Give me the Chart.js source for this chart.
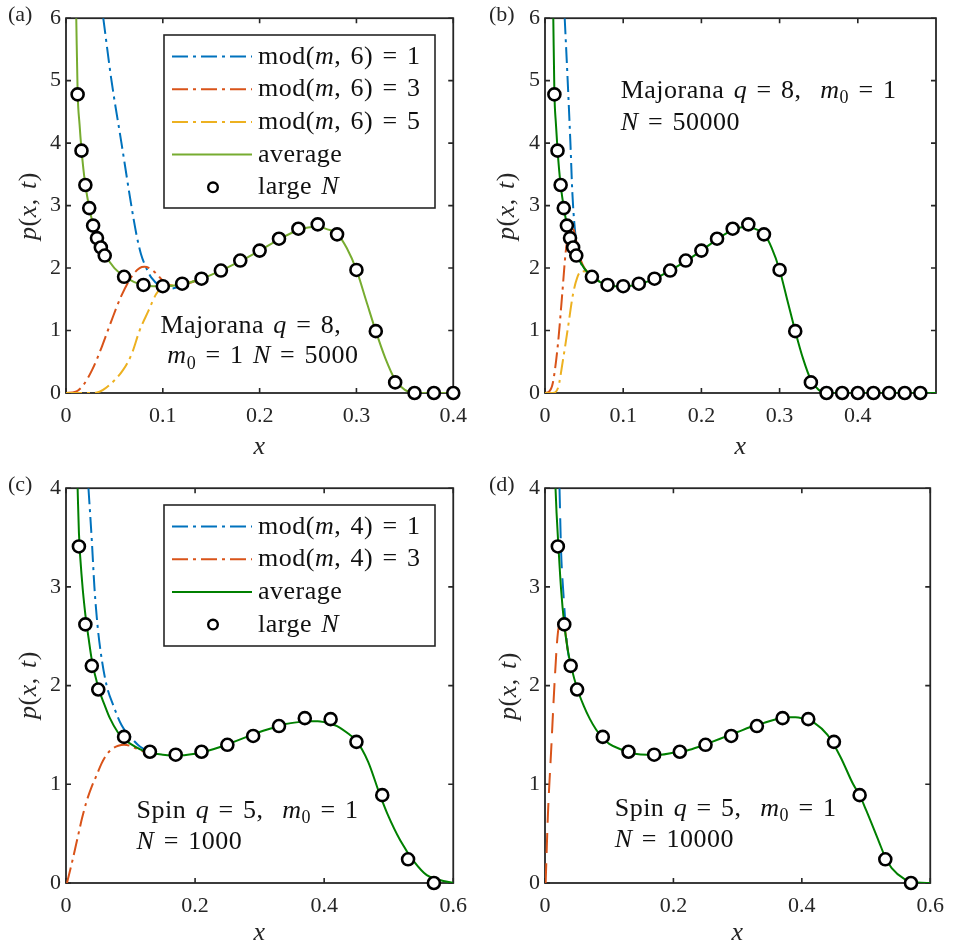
<!DOCTYPE html>
<html>
<head>
<meta charset="utf-8">
<script src="https://cdn.jsdelivr.net/npm/chart.js@4.4.0/dist/chart.umd.min.js"></script>
<style>
html,body{margin:0;padding:0;background:#fff;}
#wrap{position:relative;width:954px;height:951px;overflow:hidden;background:#fff;}
#wrap canvas{position:absolute;}
</style>
</head>
<body>
<div id="wrap">
<canvas id="ca" width="477" height="470"></canvas>
<canvas id="cb" width="477" height="470"></canvas>
<canvas id="cc" width="477" height="481"></canvas>
<canvas id="cd" width="477" height="481"></canvas>
</div>
<script>
// ---------------- data ----------------
// large-N points, Majorana q = 8 (panels a, b)
const largeNX_q8 = [0.012,0.016,0.020,0.024,0.028,0.032,0.036,0.040,0.06,0.08,0.10,0.12,0.14,0.16,0.18,0.20,0.22,0.24,0.26,0.28,0.30,0.32,0.34,0.36,0.38,0.40,0.42,0.44,0.46,0.48];
const largeNY_q8 = [4.78,3.88,3.33,2.96,2.68,2.48,2.33,2.20,1.86,1.73,1.71,1.75,1.83,1.96,2.12,2.28,2.47,2.63,2.70,2.54,1.97,0.99,0.17,0,0,0,0,0,0,0];
// average curve, q = 8
const avgX_q8 = [0.0106,0.012,0.014,0.016,0.018,0.020,0.024,0.028,0.032,0.036,0.040,0.05,0.06,0.07,0.08,0.09,0.10,0.12,0.14,0.16,0.18,0.20,0.22,0.24,0.25,0.26,0.27,0.28,0.29,0.30,0.31,0.32,0.33,0.34,0.35,0.36,0.40,0.50];
const avgY_q8 = [6.0,4.82,4.3,3.9,3.58,3.33,2.97,2.70,2.50,2.35,2.22,2.0,1.87,1.78,1.73,1.71,1.71,1.74,1.83,1.96,2.11,2.28,2.46,2.61,2.65,2.66,2.62,2.55,2.32,1.97,1.48,0.99,0.55,0.21,0.05,0.0,0,0];
// panel a, N = 5000
const mod1X_a = [0.0385,0.047,0.0573,0.0675,0.0726,0.0775,0.083,0.088,0.0965,0.105,0.112,0.12,0.14];
const mod1Y_a = [6,5,4,3,2.55,2.22,2.0,1.85,1.72,1.67,1.68,1.73,1.83];
const mod3X_a = [0,0.01,0.018,0.027,0.037,0.047,0.057,0.068,0.076,0.081,0.087,0.094,0.10,0.11,0.12,0.14];
const mod3Y_a = [0,0.02,0.13,0.37,0.74,1.16,1.55,1.87,2.0,2.02,1.99,1.9,1.8,1.72,1.73,1.83];
const mod5X_a = [0,0.02,0.032,0.045,0.059,0.068,0.076,0.085,0.093,0.098,0.105,0.12,0.14];
const mod5Y_a = [0,0,0.01,0.13,0.37,0.63,1.0,1.31,1.58,1.67,1.71,1.74,1.83];
// panel b, N = 50000
const mod1X_b = [0.0252,0.029,0.0325,0.035,0.038,0.042,0.047,0.053,0.06,0.07];
const mod1Y_b = [6,5,4,3.2,2.65,2.26,2.05,1.93,1.87,1.78];
const mod3X_b = [0,0.005,0.010,0.0166,0.022,0.0265,0.031,0.035,0.038,0.042,0.046,0.05,0.06];
const mod3Y_b = [0,0.02,0.16,0.79,1.58,2.26,2.6,2.65,2.55,2.3,2.12,2.01,1.87];
const mod5X_b = [0,0.01,0.0166,0.023,0.0294,0.0358,0.041,0.0466,0.053,0.06,0.07];
const mod5Y_b = [0,0,0.08,0.53,1.05,1.58,1.84,1.95,1.94,1.87,1.78];
// large-N points, Spin q = 5 (panels c, d)
const largeNX_s5 = [0.02,0.03,0.04,0.05,0.09,0.13,0.17,0.21,0.25,0.29,0.33,0.37,0.41,0.45,0.49,0.53,0.57];
const largeNY_s5 = [3.41,2.62,2.20,1.96,1.48,1.33,1.30,1.33,1.40,1.49,1.59,1.67,1.66,1.43,0.89,0.24,0.0];
// panel c, N = 1000
const avgX_c = [0.018,0.02,0.025,0.03,0.035,0.04,0.05,0.06,0.068,0.08,0.088,0.10,0.124,0.15,0.17,0.20,0.22,0.24,0.26,0.28,0.30,0.32,0.34,0.36,0.38,0.39,0.40,0.42,0.44,0.449,0.468,0.486,0.498,0.518,0.539,0.559,0.579,0.60];
const avgY_c = [4.0,3.55,3.05,2.72,2.48,2.26,1.98,1.8,1.67,1.53,1.47,1.41,1.33,1.30,1.29,1.31,1.34,1.38,1.43,1.48,1.53,1.57,1.61,1.63,1.64,1.64,1.63,1.59,1.50,1.45,1.23,0.90,0.70,0.43,0.22,0.08,0.03,0.0];
const mod1X_c = [0.0348,0.040,0.044,0.049,0.0553,0.063,0.0733,0.086,0.104,0.115,0.13,0.14];
const mod1Y_c = [4,3.47,3.0,2.6,2.27,2.0,1.8,1.6,1.45,1.38,1.33,1.31];
const mod3X_c = [0.0015,0.009,0.017,0.025,0.032,0.04,0.048,0.055,0.063,0.072,0.081,0.09,0.099,0.11,0.122,0.14];
const mod3Y_c = [0,0.2,0.43,0.66,0.83,0.98,1.1,1.21,1.3,1.36,1.39,1.40,1.39,1.36,1.33,1.31];
// panel d, N = 10000
const avgX_d = [0.0164,0.018,0.021,0.025,0.03,0.035,0.0405,0.0506,0.06,0.07,0.08,0.09,0.10,0.12,0.14,0.16,0.18,0.20,0.22,0.24,0.26,0.28,0.30,0.32,0.34,0.36,0.38,0.39,0.40,0.42,0.44,0.46,0.48,0.49,0.50,0.52,0.53,0.54,0.56,0.58,0.60];
const avgY_d = [4.0,3.75,3.4,2.98,2.62,2.38,2.2,1.96,1.8,1.66,1.55,1.47,1.41,1.35,1.31,1.30,1.30,1.32,1.34,1.38,1.43,1.48,1.53,1.58,1.62,1.66,1.68,1.68,1.67,1.62,1.50,1.28,1.00,0.89,0.74,0.42,0.26,0.15,0.04,0.005,0.0];
const mod1X_d = [0.0226,0.025,0.0287,0.0318,0.035,0.04];
const mod1Y_d = [4,3.37,2.93,2.63,2.38,2.2];
const mod3X_d = [0.001,0.0046,0.0098,0.0149,0.02,0.025,0.03,0.035,0.04];
const mod3Y_d = [0,0.7,1.37,2.03,2.53,2.63,2.6,2.38,2.2];
// tick values
const xTicks_q8 = [0,0.1,0.2,0.3,0.4];
const yTicks_q8 = [0,1,2,3,4,5,6];
const xTicks_s5 = [0,0.2,0.4,0.6];
const yTicks_s5 = [0,1,2,3,4];

// ---------------- styles ----------------
const FONT = '"Liberation Serif","Times New Roman",serif';
const INK = '#262626';
const BLUE = '#0072BD', RED = '#D95319', YEL = '#EDB120', LGREEN = '#77AC30', DGREEN = '#008000';
const DASHDOT = [16,5,3,5], DASHED = [20,10];
const BIG = 26, TICK = 22;
Chart.defaults.font.family = FONT;
Chart.defaults.color = INK;

function zip(xs, ys){ return xs.map((x,i)=>({x:x, y:ys[i]})); }
function fmtTick(v){ return String(Math.round(v*100)/100); }

// rich text: *italic*, _{sub}
function parseRich(s){
  const out=[]; const re=/\*([^*]+)\*|_\{([^}]+)\}/g; let last=0, m;
  while((m=re.exec(s))){
    if(m.index>last) out.push({t:s.slice(last,m.index),k:'n'});
    if(m[1]!==undefined) out.push({t:m[1],k:'i'}); else out.push({t:m[2],k:'s'});
    last=re.lastIndex;
  }
  if(last<s.length) out.push({t:s.slice(last),k:'n'});
  return out;
}
function fontFor(k,size){
  if(k==='i') return 'italic '+size+'px '+FONT;
  if(k==='s') return Math.round(size*0.7)+'px '+FONT;
  return size+'px '+FONT;
}
function layoutRich(ctx, s, size){
  const segs=parseRich(s); const pieces=[]; let w=0;
  segs.forEach(g=>{
    ctx.font=fontFor(g.k,size);
    const parts=g.t.split(' ');
    parts.forEach((p,j)=>{
      if(j>0){ w+=size*0.36; }
      if(p.length){ const pw=ctx.measureText(p).width; pieces.push({t:p,k:g.k,x:w}); w+=pw; }
    });
  });
  return {pieces, w};
}
function drawRich(ctx, s, x, y, size, align, color){
  ctx.save();
  try{ ctx.letterSpacing='0.5px'; }catch(e){}
  const L=layoutRich(ctx,s,size);
  let x0 = align==='center'? x-L.w/2 : (align==='right'? x-L.w : x);
  ctx.fillStyle=color||'#111'; ctx.textAlign='left'; ctx.textBaseline='alphabetic';
  L.pieces.forEach(p=>{
    ctx.font=fontFor(p.k,size);
    ctx.fillText(p.t, x0+p.x, p.k==='s'? y+size*0.2 : y);
  });
  ctx.restore();
}

function curve(label, rich, xs, ys, color, dash, order){
  return {label, rich, data:zip(xs,ys), showLine:true, borderColor:color, backgroundColor:color,
    borderWidth:2, borderDash:dash||[], borderCapStyle:'butt', pointRadius:0, pointHoverRadius:0,
    cubicInterpolationMode:'monotone', fill:false, order};
}
function marks(label, rich, xs, ys, maxX){
  return {label, rich, data:zip(xs,ys).filter(p=>p.x<=maxX+1e-9), showLine:false,
    pointRadius:6, pointHoverRadius:6, pointBorderWidth:2.6, pointBorderColor:'#000', pointBackgroundColor:'#fff',
    borderColor:'#000', backgroundColor:'#fff', order:0, clip:false, isMarker:true};
}

const panels = [
  { id:'ca', left:0, top:0, W:477, H:470, area:{left:66,right:457,top:13,bottom:393},
    xMax:0.4, yMax:6, xTicks:xTicks_q8, yTicks:yTicks_q8,
    tag:'(a)', tagX:8, yTitleX:35.5, yTitleY:206, xTitleY:453.5,
    legend:{left:164, top:35, right:435, bottom:208},
    notes:[{t:'Majorana *q* = 8,', x:0.0975, y:0.963},{t:'*m*_{0} = 1 *N* = 5000', x:0.1047, y:0.474}],
    datasets:[
      curve('mod(m, 6) = 1','mod(*m*, 6) = 1',mod1X_a,mod1Y_a,BLUE,DASHDOT,4),
      curve('mod(m, 6) = 3','mod(*m*, 6) = 3',mod3X_a,mod3Y_a,RED,DASHDOT,3),
      curve('mod(m, 6) = 5','mod(*m*, 6) = 5',mod5X_a,mod5Y_a,YEL,DASHDOT,2),
      curve('average','average',avgX_q8,avgY_q8,LGREEN,[],1),
      marks('large N','large *N*',largeNX_q8,largeNY_q8,0.4)
    ]},
  { id:'cb', left:477, top:0, W:477, H:470, area:{left:68,right:459,top:13,bottom:393},
    xMax:0.5, yMax:6, xTicks:xTicks_q8, yTicks:yTicks_q8,
    tag:'(b)', tagX:12, yTitleX:37.3, yTitleY:206, xTitleY:453.5,
    legend:null,
    notes:[{t:'Majorana *q* = 8,  *m*_{0} = 1', x:0.0968, y:4.72},{t:'*N* = 50000', x:0.0968, y:4.21}],
    datasets:[
      curve('mod(m, 6) = 1','mod(*m*, 6) = 1',mod1X_b,mod1Y_b,BLUE,DASHDOT,4),
      curve('mod(m, 6) = 3','mod(*m*, 6) = 3',mod3X_b,mod3Y_b,RED,DASHDOT,3),
      curve('mod(m, 6) = 5','mod(*m*, 6) = 5',mod5X_b,mod5Y_b,YEL,DASHDOT,2),
      curve('average','average',avgX_q8,avgY_q8,DGREEN,[],1),
      marks('large N','large *N*',largeNX_q8,largeNY_q8,0.5)
    ]},
  { id:'cc', left:0, top:470, W:477, H:481, area:{left:66,right:456,top:13,bottom:413},
    xMax:0.6, yMax:4, xTicks:xTicks_s5, yTicks:yTicks_s5,
    tag:'(c)', tagX:8, yTitleX:35.5, yTitleY:215, xTitleY:470,
    legend:{left:164, top:35, right:435, bottom:176},
    notes:[{t:'Spin *q* = 5,  *m*_{0} = 1', x:0.1094, y:0.656},{t:'*N* = 1000', x:0.1094, y:0.34}],
    datasets:[
      curve('mod(m, 4) = 1','mod(*m*, 4) = 1',mod1X_c,mod1Y_c,BLUE,DASHDOT,3),
      curve('mod(m, 4) = 3','mod(*m*, 4) = 3',mod3X_c,mod3Y_c,RED,DASHDOT,2),
      curve('average','average',avgX_c,avgY_c,DGREEN,[],1),
      marks('large N','large *N*',largeNX_s5,largeNY_s5,0.6)
    ]},
  { id:'cd', left:477, top:470, W:477, H:481, area:{left:68,right:459,top:13,bottom:413},
    xMax:0.6, yMax:4, xTicks:xTicks_s5, yTicks:yTicks_s5,
    tag:'(d)', tagX:12, yTitleX:38.5, yTitleY:216, xTitleY:470,
    legend:null,
    notes:[{t:'Spin *q* = 5,  *m*_{0} = 1', x:0.1085, y:0.683},{t:'*N* = 10000', x:0.1085, y:0.366}],
    datasets:[
      curve('mod(m, 4) = 1','mod(*m*, 4) = 1',mod1X_d,mod1Y_d,BLUE,DASHED,3),
      curve('mod(m, 4) = 3','mod(*m*, 4) = 3',mod3X_d,mod3Y_d,RED,DASHED,2),
      curve('average','average',avgX_d,avgY_d,DGREEN,[],1),
      marks('large N','large *N*',largeNX_s5,largeNY_s5,0.6)
    ]}
];

function deco(p){
  return {
    id:'deco',
    beforeDatasetsDraw(chart){
      const ctx=chart.ctx, a=chart.chartArea, xs=chart.scales.x, ys=chart.scales.y, TL=5;
      ctx.save();
      ctx.strokeStyle=INK; ctx.lineWidth=1.6; ctx.setLineDash([]);
      ctx.beginPath();
      xs.ticks.forEach(t=>{ const px=xs.getPixelForValue(t.value);
        ctx.moveTo(px,a.bottom); ctx.lineTo(px,a.bottom-TL);
        ctx.moveTo(px,a.top); ctx.lineTo(px,a.top+TL); });
      ys.ticks.forEach(t=>{ const py=ys.getPixelForValue(t.value);
        ctx.moveTo(a.left,py); ctx.lineTo(a.left+TL,py);
        ctx.moveTo(a.right,py); ctx.lineTo(a.right-TL,py); });
      ctx.stroke();
      ctx.lineWidth=1.8;
      ctx.strokeRect(a.left,a.top,a.right-a.left,a.bottom-a.top);
      ctx.restore();
    },
    afterDatasetsDraw(chart){
      const ctx=chart.ctx, xs=chart.scales.x, ys=chart.scales.y;
      p.notes.forEach(n=>{
        drawRich(ctx, n.t, xs.getPixelForValue(n.x), ys.getPixelForValue(n.y), BIG, 'left', '#111');
      });
      if(p.legend){
        const L=p.legend; const items=chart.data.datasets;
        ctx.save();
        ctx.fillStyle='#fff'; ctx.fillRect(L.left,L.top,L.right-L.left,L.bottom-L.top);
        ctx.strokeStyle=INK; ctx.lineWidth=1.6; ctx.setLineDash([]);
        ctx.strokeRect(L.left,L.top,L.right-L.left,L.bottom-L.top);
        items.forEach((d,i)=>{
          const base=L.top+28.5+i*32.7, ly=base-7;
          if(d.isMarker){
            ctx.beginPath(); ctx.setLineDash([]);
            ctx.arc(L.left+49, ly, 4.8, 0, Math.PI*2);
            ctx.fillStyle='#fff'; ctx.fill();
            ctx.lineWidth=2.4; ctx.strokeStyle='#000'; ctx.stroke();
          } else {
            ctx.beginPath(); ctx.setLineDash(d.borderDash||[]); ctx.lineDashOffset=0;
            ctx.lineWidth=d.borderWidth; ctx.strokeStyle=d.borderColor; ctx.lineCap='butt';
            ctx.moveTo(L.left+8, ly); ctx.lineTo(L.left+88, ly); ctx.stroke();
          }
          drawRich(ctx, d.rich, L.left+94, base, BIG, 'left', '#111');
        });
        ctx.restore();
      }
    },
    afterDraw(chart){
      const ctx=chart.ctx, a=chart.chartArea;
      ctx.save();
      ctx.fillStyle=INK; ctx.font=TICK+'px '+FONT; ctx.textAlign='left'; ctx.textBaseline='alphabetic';
      ctx.fillText(p.tag, p.tagX, 20.5);
      ctx.restore();
      drawRich(ctx, '*x*', (a.left+a.right)/2, p.xTitleY, BIG, 'center', INK);
      ctx.save();
      ctx.translate(p.yTitleX, p.yTitleY); ctx.rotate(-Math.PI/2);
      drawRich(ctx, '*p*(*x*, *t*)', 0, 0, BIG, 'center', INK);
      ctx.restore();
    }
  };
}

panels.forEach(p=>{
  const cv=document.getElementById(p.id);
  cv.style.left=p.left+'px'; cv.style.top=p.top+'px';
  new Chart(cv, {
    type:'scatter',
    data:{datasets:p.datasets},
    options:{
      responsive:false, animation:false, devicePixelRatio:1, events:[],
      layout:{padding:{left:0, top:p.area.top, right:p.W-p.area.right, bottom:0}},
      plugins:{legend:{display:false}, tooltip:{enabled:false}, title:{display:false}},
      scales:{
        x:{type:'linear', min:0, max:p.xMax,
           grid:{display:false, drawTicks:false}, border:{display:false},
           ticks:{font:{family:FONT,size:TICK}, color:INK, padding:10, maxRotation:0, autoSkip:false, callback:v=>fmtTick(v)},
           afterBuildTicks:s=>{ s.ticks=p.xTicks.map(v=>({value:v})); },
           afterFit:s=>{ s.height=p.H-p.area.bottom; }},
        y:{type:'linear', min:0, max:p.yMax,
           grid:{display:false, drawTicks:false}, border:{display:false},
           ticks:{font:{family:FONT,size:TICK}, color:INK, padding:5, autoSkip:false, callback:v=>fmtTick(v)},
           afterBuildTicks:s=>{ s.ticks=p.yTicks.map(v=>({value:v})); },
           afterFit:s=>{ s.width=p.area.left; }}
      }
    },
    plugins:[deco(p)]
  });
});
</script>
</body>
</html>
